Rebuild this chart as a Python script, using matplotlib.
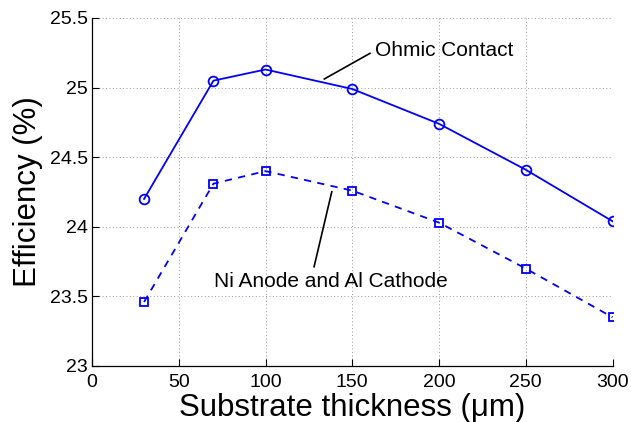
import matplotlib
matplotlib.use('Agg')
from matplotlib import pyplot as plt

thickness = [30, 70, 100, 150, 200, 250, 300]
ohmic = [24.20, 25.05, 25.13, 24.99, 24.74, 24.41, 24.04]
ni_al = [23.46, 24.31, 24.40, 24.26, 24.03, 23.70, 23.35]

xticks = [0, 50, 100, 150, 200, 250, 300]
yticks = [23, 23.5, 24, 24.5, 25, 25.5]
ytick_labels = ['23', '23.5', '24', '24.5', '25', '25.5']

plt.rcParams['font.family'] = ['Liberation Sans', 'DejaVu Sans']

fig = plt.figure(figsize=(6.31, 4.22), dpi=100)
ax = fig.add_axes([92/631, 1 - 366/422, (612.5 - 92)/631, (366 - 18)/422])

ax.plot(thickness, ohmic, '-o', color='#0000ff', lw=1.3, ms=7, mfc='none', mew=1.3)
ax.plot(thickness, ni_al, '--s', color='#0000ff', lw=1.3, ms=5.5, mfc='none', mew=1.3,
        dashes=(4, 3.5))

ax.set_xlim(0, 300)
ax.set_ylim(23, 25.5)
ax.set_xticks(xticks)
ax.set_yticks(yticks)
ax.set_yticklabels(ytick_labels)
ax.tick_params(direction='in', length=5, width=0.8, labelsize=14)
ax.tick_params(axis='x', pad=6)
ax.tick_params(axis='y', pad=3)
ax.grid(True, linestyle=(0, (1, 2.5)), color='#999999', lw=0.7)
ax.spines['top'].set_visible(False)
ax.spines['right'].set_visible(False)
ax.spines['left'].set_linewidth(0.9)
ax.spines['bottom'].set_linewidth(0.9)

ax.set_xlabel('Substrate thickness (\u03bcm)', fontsize=22.5, labelpad=1)
ax.set_ylabel('Efficiency (%)', fontsize=22.5, labelpad=5)

# annotation leader lines
ax.plot([133.9, 160.2], [25.062, 25.246], color='black', lw=1.2)
ax.text(163.1, 25.263, 'Ohmic Contact', fontsize=15, va='center', ha='left')
ax.plot([138.2, 128.0], [24.252, 23.713], color='black', lw=1.2)
ax.text(137.5, 23.606, 'Ni Anode and Al Cathode', fontsize=15, va='center', ha='center')

fig.savefig('out.png', dpi=100)
